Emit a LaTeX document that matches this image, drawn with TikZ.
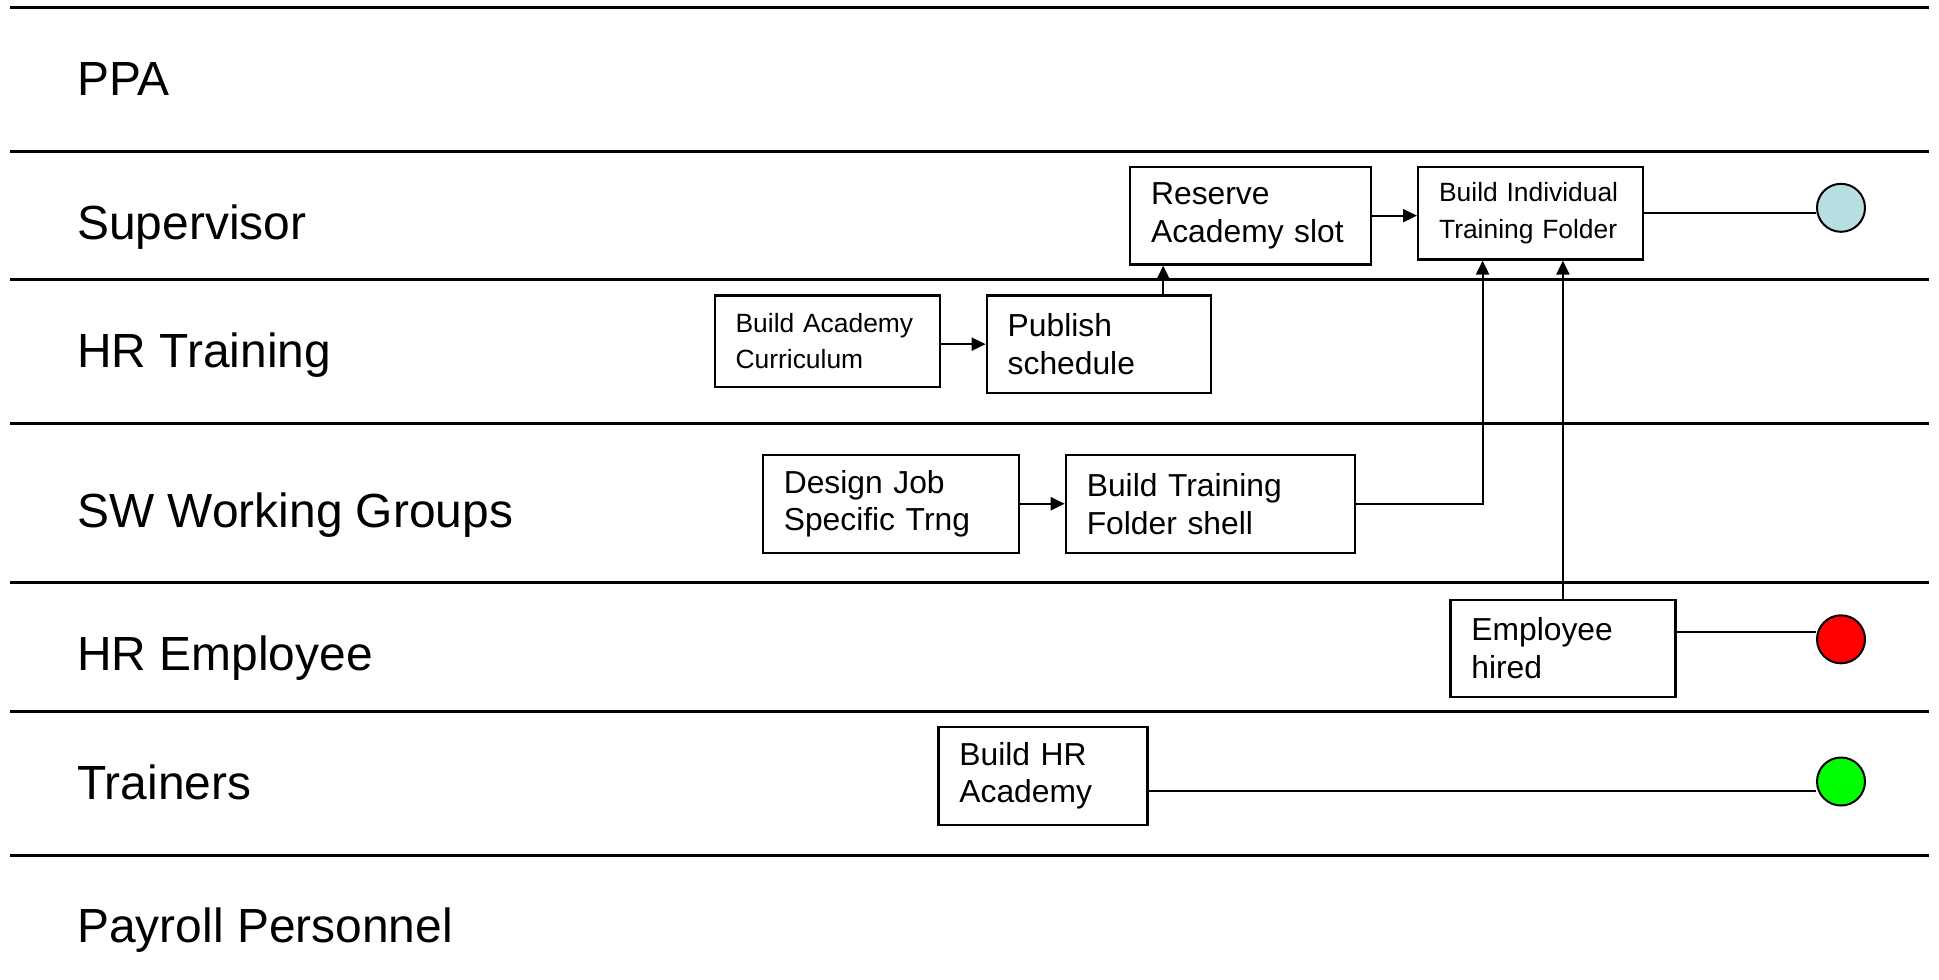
\documentclass[tikz,border=0pt]{standalone}
\usepackage{fontspec}
\setmainfont{Liberation Sans}
\usetikzlibrary{arrows.meta}
\newcommand\lanefont{\fontsize{23.95pt}{28pt}\selectfont}
\newcommand\bigtxt{\fontsize{15.9pt}{18.9pt}\selectfont}
\newcommand\smalltxt{\fontsize{13.2pt}{18.4pt}\selectfont}
\definecolor{endblue}{RGB}{183,222,226}
\definecolor{endred}{RGB}{255,0,0}
\definecolor{endgreen}{RGB}{0,255,0}
\begin{document}
\begin{tikzpicture}[x=0.5pt,y=-0.5pt,
  lane/.style={line width=1.5pt},
  lanelabel/.style={anchor=base west, inner sep=0pt, font=\lanefont},
  task/.style={draw, line width=1.1pt, align=left, anchor=north west,
    inner xsep=10.5pt, inner ysep=0pt},
  bigtask/.style={task, font=\bigtxt},
  smalltask/.style={task, font=\smalltxt},
  link/.style={line width=1pt},
  arr/.style={link, -{Triangle[length=7pt,width=6.5pt]}},
  endpt/.style={circle, draw, line width=1pt, minimum size=24pt, inner sep=0pt}]
\useasboundingbox (0,0) rectangle (1939,980);
\fill[white] (0,0) rectangle (1939,980);

% swimlane separators
\foreach \y in {7,151,279,423,582,711,855}
  \draw[lane] (10,\y) -- (1929,\y);

% lane titles
\node[lanelabel] (lppa) at (77,95)  {PPA};
\node[lanelabel] (lsup) at (77,239) {Supervisor};
\node[lanelabel] (lhrt) at (77,367) {HR Training};
\node[lanelabel] (lswg) at (77,527) {SW Working Groups};
\node[lanelabel] (lhre) at (77,670) {HR Employee};
\node[lanelabel] (ltrn) at (77,799) {Trainers};
\node[lanelabel] (lpay) at (77,942) {Payroll Personnel};

% activities
\node[bigtask,   text width=99.5pt,  minimum height=48.85pt] (res) at (1129,165.7) {Reserve\\Academy slot};
\node[smalltask, text width=91.5pt,  minimum height=46.35pt] (ind) at (1417,165.7) {Build Individual\\Training Folder};
\node[smalltask, text width=91.5pt,  minimum height=45.75pt] (bac) at (713.5,294.3) {Build Academy\\Curriculum};
\node[bigtask,   text width=91pt,    minimum height=48.85pt] (pub) at (985.6,294.3) {Publish\\schedule};
\node[bigtask,   text width=107pt,   minimum height=48.85pt] (des) at (761.7,453.8) {Design Job\\Specific Trng};
\node[bigtask,   text width=123.7pt, minimum height=48.85pt] (bts) at (1064.7,453.8) {Build Training\\Folder shell};
\node[bigtask,   text width=91.5pt,  minimum height=48.85pt] (emp) at (1449.3,598.5) {Employee\\hired};
\node[bigtask,   text width=83.5pt,  minimum height=48.85pt] (bhr) at (937.3,725.9) {Build HR\\Academy};

% end points
\node[endpt, fill=endblue]  (blue)  at (1841,207.8) {};
\node[endpt, fill=endred]   (red)   at (1841,639.3) {};
\node[endpt, fill=endgreen] (green) at (1841,781.5) {};

% flows
\draw[arr] ([yshift=-1.5pt]bac.east) -- ([yshift=-1.5pt]bac.east -| pub.west);
\draw[arr] ([xshift=32.25pt]pub.north) -- ([xshift=32.25pt]pub.north |- res.south);
\draw[arr] (res.east) -- (res.east -| ind.west);
\draw[arr] (des.east) -- (bts.west);
\draw[arr] (bts.east) -| ([xshift=-24pt]ind.south);
\draw[arr] (emp.north) -- (emp.north |- ind.south);
\draw[link] (ind.east) -- (ind.east -| blue.west);
\draw[link] ([yshift=8.35pt]emp.east) -- ([yshift=8.35pt]emp.east -| red.west);
\draw[link] ([yshift=-7.35pt]bhr.east) -- ([yshift=-7.35pt]bhr.east -| green.west);
\end{tikzpicture}
\end{document}
